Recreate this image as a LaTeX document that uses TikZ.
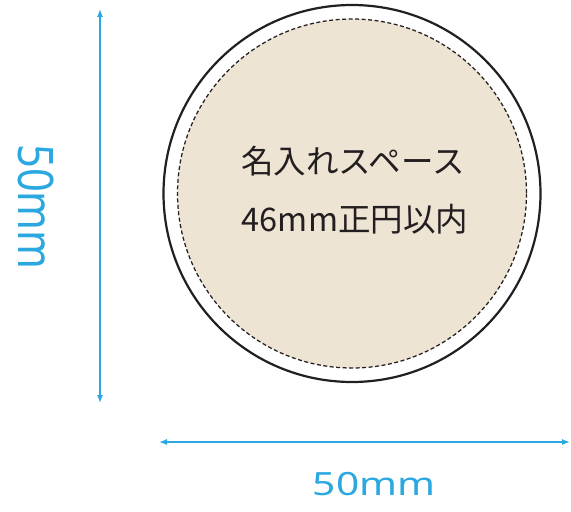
\documentclass[tikz,border=0pt]{standalone}
\usepackage{fontspec}
\setmainfont{Noto Sans}
\newfontfamily\jpfont{Noto Sans CJK JP}
\usetikzlibrary{arrows.meta}
\definecolor{dimblue}{HTML}{2BA8E0}
\definecolor{inkdark}{HTML}{231F20}
\definecolor{beige}{HTML}{EEE4D4}
\tikzset{
  dimline/.style={draw=dimblue, line width=1.3pt, {Latex[length=8pt,width=6pt]}-{Latex[length=8pt,width=6pt]}},
  dimlabel/.style={text=dimblue, inner sep=0pt},
  jplabel/.style={text=inkdark, inner sep=0pt, font=\jpfont\fontsize{32.5}{32.5}\selectfont},
}
\begin{document}
\begin{tikzpicture}[x=1pt,y=-1pt]
\useasboundingbox (0,0) rectangle (571,512);
% outer circle and inner dashed area
\coordinate (c) at (352,193.5);
\fill[beige] (c) circle (174.5);
\draw[inkdark, line width=1.25pt, dash pattern=on 4pt off 2.5pt] (c) circle (174.5);
\draw[inkdark, line width=2.2pt] (c) circle (188.5);
% text inside
\node[jplabel] (t1) at (353,161) {名入れスペース};
\node[jplabel] (t2) at (355,219) {46mm正円以内};
% dimension arrows
\coordinate (vt) at (100,9);
\coordinate (vb) at (100,403);
\draw[dimline] (vt) -- (vb);
\coordinate (hl) at (159,442);
\coordinate (hr) at (570,442);
\draw[dimline] (hl) -- (hr);
% labels
\node[dimlabel, rotate=-90] (vl) at (36.5,207) {\scalebox{0.85}[1]{\fontsize{49}{49}\selectfont 50mm}};
\node[dimlabel] (hlab) at (374,484) {\scalebox{1.27}[1]{\fontsize{32}{32}\selectfont 50mm}};
\end{tikzpicture}
\end{document}
